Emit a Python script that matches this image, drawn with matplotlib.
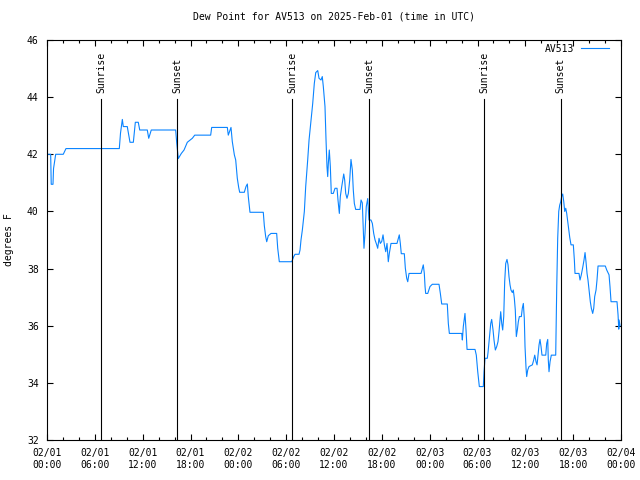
import matplotlib
matplotlib.use("Agg")
import matplotlib.pyplot as plt
import matplotlib.dates as mdates
import pandas as pd

# Dew point readings: hours since 2025-02-01 00:00 UTC, degrees F
hours = [
    0.0, 0.46, 0.53, 0.75, 0.82, 1.09, 2.04, 2.38, 9.07, 9.22, 9.45, 9.57, 10.07,
    10.41, 10.83, 11.08, 11.45, 11.63, 12.58, 12.76, 13.08, 16.14, 16.27, 16.47,
    16.85, 17.19, 17.6, 18.23, 18.53, 20.53, 20.66, 22.62, 22.74, 23.08, 23.24,
    23.5, 23.67, 23.87, 24.05, 24.17, 24.75, 24.96, 25.13, 25.25, 25.46, 27.13,
    27.26, 27.43, 27.56, 27.76, 28.1, 28.81, 28.94, 29.14, 30.7, 30.95, 31.11,
    31.61, 31.74, 31.86, 32.03, 32.28, 32.45, 32.7, 32.87, 33.12, 33.33, 33.53,
    33.71, 33.96, 34.12, 34.37, 34.53, 34.66, 34.87, 35.0, 35.12, 35.21, 35.29,
    35.41, 35.54, 35.66, 35.91, 36.13, 36.38, 36.5, 36.67, 36.79, 36.97, 37.22,
    37.34, 37.47, 37.63, 37.8, 37.97, 38.13, 38.3, 38.42, 38.55, 38.72, 39.26,
    39.39, 39.55, 39.68, 39.76, 39.89, 40.05, 40.23, 40.39, 40.64, 40.81, 40.98,
    41.15, 41.36, 41.48, 41.65, 41.81, 41.99, 42.15, 42.32, 42.49, 42.65, 42.81,
    42.94, 43.15, 43.9, 44.07, 44.19, 44.32, 44.44, 44.82, 44.95, 45.12, 45.25,
    45.41, 46.92, 47.08, 47.2, 47.33, 47.42, 47.5, 47.76, 48.04, 48.33, 49.17,
    49.34, 49.51, 50.21, 50.34, 50.47, 52.02, 52.1, 52.22, 52.35, 52.43, 52.56,
    52.69, 53.69, 53.85, 54.03, 54.23, 54.73, 54.82, 54.94, 55.23, 55.32, 55.53,
    55.66, 55.78, 55.95, 56.07, 56.24, 56.41, 56.57, 56.7, 56.82, 56.91, 57.04,
    57.16, 57.29, 57.41, 57.54, 57.7, 57.83, 57.95, 58.08, 58.2, 58.37, 58.49,
    58.62, 58.74, 58.87, 59.0, 59.12, 59.25, 59.5, 59.62, 59.75, 59.87, 59.96,
    60.09, 60.17, 60.3, 60.46, 60.88, 61.05, 61.18, 61.34, 61.47, 61.59, 61.72,
    61.84, 61.97, 62.09, 62.56, 62.68, 62.81, 62.88, 62.97, 63.1, 63.26, 63.81,
    63.85, 63.94, 64.06, 64.19, 64.31, 64.44, 64.57, 64.69, 64.82, 64.94, 65.07,
    65.19, 65.32, 65.44, 65.57, 65.73, 66.02, 66.15, 66.23, 66.73, 66.86, 67.02,
    67.2, 67.36, 67.49, 67.61, 67.74, 67.86, 67.99, 68.15, 68.28, 68.45, 68.58,
    68.7, 68.87, 68.99, 69.12, 70.03, 70.21, 70.5, 70.62, 70.75, 71.5, 71.63,
    71.72, 71.76, 71.88,
]
dew_point = [
    42.0, 42.0, 40.95, 40.95, 41.5, 42.0, 42.0, 42.2, 42.2, 42.74, 43.22, 42.97, 42.97,
    42.42, 42.42, 43.12, 43.12, 42.85, 42.85, 42.56, 42.85, 42.85, 42.4, 41.85,
    42.03, 42.15, 42.42, 42.56, 42.67, 42.67, 42.94, 42.94, 42.67, 42.94, 42.45,
    41.98, 41.8, 41.16, 40.83, 40.67, 40.67, 40.87, 40.96, 40.52, 39.97, 39.97,
    39.5, 39.12, 38.94, 39.15, 39.23, 39.23, 38.71, 38.24, 38.24, 38.42, 38.5,
    38.5, 38.65, 39.0, 39.35, 40.0, 40.87, 41.8, 42.5, 43.2, 43.78, 44.48,
    44.86, 44.93, 44.66, 44.6, 44.72, 44.37, 43.67, 42.5, 41.57, 41.22, 41.68,
    42.15, 41.57, 40.63, 40.63, 40.81, 40.81, 40.4, 39.93, 40.52, 40.87, 41.31,
    41.1, 40.63, 40.46, 40.63, 41.1, 41.82, 41.45, 40.75, 40.28, 40.07, 40.07,
    40.4, 40.3, 39.35, 38.71, 39.23, 40.17, 40.45, 39.7, 39.7, 39.58, 39.23,
    39.0, 38.83, 38.71, 39.06, 38.88, 38.95, 39.18, 38.83, 38.59, 38.88, 38.24,
    38.53, 38.88, 38.88, 39.06, 39.18, 38.88, 38.52, 38.52, 38.01, 37.66, 37.54,
    37.83, 37.83, 38.01, 38.13, 37.83, 37.37, 37.13, 37.13, 37.37, 37.45, 37.45,
    37.13, 36.76, 36.76, 36.08, 35.73, 35.73, 35.5, 35.97, 36.26, 36.43, 35.85,
    35.17, 35.17, 34.97, 34.39, 33.87, 33.87, 34.39, 34.86, 34.86, 35.06, 35.68,
    36.08, 36.22, 35.85, 35.5, 35.15, 35.27, 35.44, 35.79, 36.2, 36.49, 36.08,
    35.85, 36.32, 37.54, 38.18, 38.32, 38.13, 37.72, 37.43, 37.25, 37.16, 37.25,
    36.96, 36.55, 35.62, 35.85, 36.14, 36.32, 36.32, 36.61, 36.78, 36.26, 35.27,
    34.51, 34.22, 34.45, 34.57, 34.63, 34.8, 34.97, 34.74, 34.63, 34.97, 35.33,
    35.52, 35.27, 34.97, 34.97, 35.38, 35.52, 34.8, 34.39, 34.74, 34.97, 34.97,
    35.79, 37.37, 39.06, 40.0, 40.22, 40.34, 40.54, 40.61, 40.34, 40.0, 40.11,
    39.93, 39.64, 39.35, 39.09, 38.83, 38.83, 38.3, 37.83, 37.83, 37.6, 37.78,
    38.04, 38.3, 38.56, 38.24, 37.83, 37.6, 37.25, 36.84, 36.61, 36.43, 36.61,
    37.02, 37.25, 37.6, 38.09, 38.09, 37.95, 37.78, 37.37, 36.84, 36.84, 36.38,
    35.88, 36.2, 36.0,
]

# Sun events (UTC)
sun_times = ["2025-02-01 06:49", "2025-02-01 16:21", "2025-02-02 06:47",
             "2025-02-02 16:24", "2025-02-03 06:52", "2025-02-03 16:27"]
sun_labels = ["Sunrise", "Sunset", "Sunrise", "Sunset", "Sunrise", "Sunset"]

start = pd.Timestamp("2025-02-01 00:00")
times = start + pd.to_timedelta(hours, unit="h")

plt.rcParams["font.family"] = "DejaVu Sans Mono"
plt.rcParams["font.size"] = 7

fig = plt.figure(figsize=(6.4, 4.8), dpi=100)
ax = fig.add_axes([47 / 640, 40 / 480, 574 / 640, 400 / 480])

ax.plot(times, dew_point, color="#0a84ff", lw=0.8, label="AV513")

# Sunrise / sunset markers
for t, lab in zip(sun_times, sun_labels):
    ts = pd.Timestamp(t)
    ax.plot([ts, ts], [32, 43.94], color="black", lw=0.8)
    ax.text(ts, 44.15, lab, rotation=90, ha="center", va="bottom", fontsize=7)

ax.set_xlim(start, pd.Timestamp("2025-02-04 00:00"))
ax.set_ylim(32, 46)
ax.set_yticks(range(32, 47, 2))
ax.xaxis.set_major_locator(mdates.HourLocator(byhour=[0, 6, 12, 18]))
ax.xaxis.set_minor_locator(mdates.HourLocator(byhour=range(0, 24, 2)))
ax.xaxis.set_major_formatter(mdates.DateFormatter("%m/%d\n%H:%M"))

ax.tick_params(axis="both", which="major", direction="in", length=4.5, width=0.8,
               top=True, right=True, labelsize=7, pad=6)
ax.tick_params(axis="x", which="minor", direction="in", length=2.2, width=0.8,
               top=True, bottom=True)
for s in ax.spines.values():
    s.set_linewidth(0.8)

ax.set_ylabel("degrees F", fontsize=7, labelpad=9)
ax.set_title("Dew Point for AV513 on 2025-Feb-01 (time in UTC)", fontsize=7, pad=15)

ax.legend(loc="upper right", frameon=False, markerfirst=False, fontsize=7,
          handlelength=2.9, handletextpad=0.7, borderaxespad=0.4,
          bbox_to_anchor=(0.993, 1.01))

fig.savefig("out.png", dpi=100)
